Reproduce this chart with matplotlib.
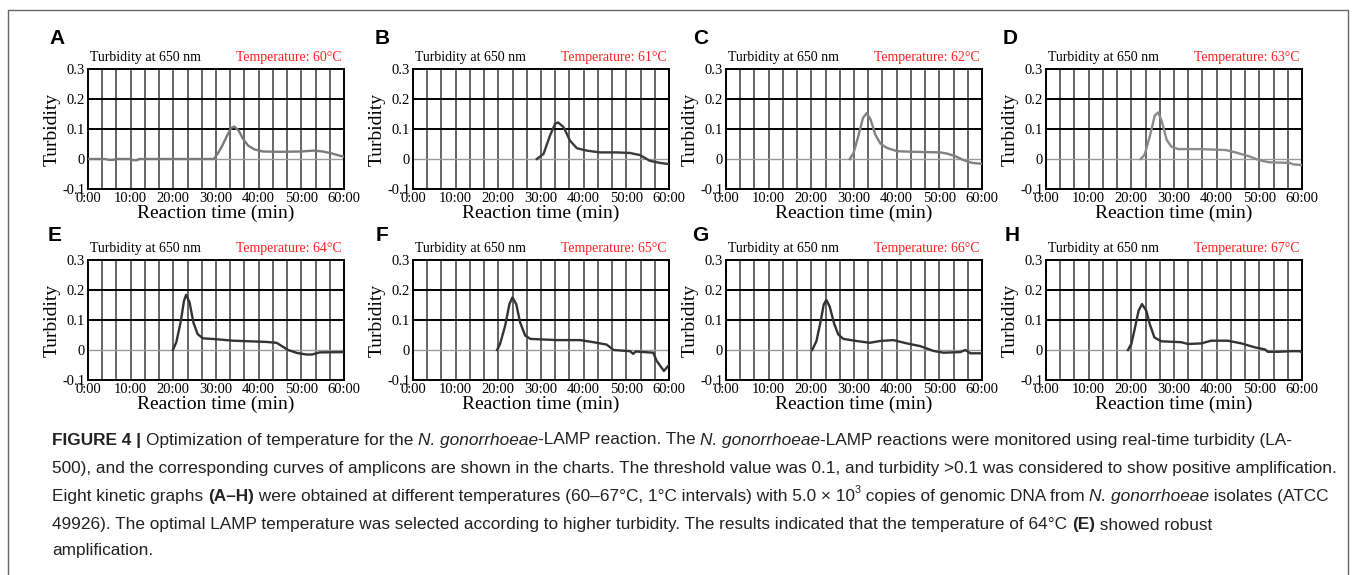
import numpy as np
import matplotlib
matplotlib.use('Agg')
import matplotlib.pyplot as plt
from matplotlib.lines import Line2D

# panel letters and temperatures
letters = ['A', 'B', 'C', 'D', 'E', 'F', 'G', 'H']
temps = [60, 61, 62, 63, 64, 65, 66, 67]

# turbidity curves (time in min, turbidity)
t_a = [0, 4, 5, 6, 6.5, 10, 10.5, 11.5, 12, 29.5, 30.5, 31.5, 32.5, 33.5, 34.3, 35.3, 36.3, 37.5, 39, 41, 45, 50, 53, 55, 57, 59, 60]
y_a = [0, 0, -0.003, -0.003, 0, 0, -0.004, -0.004, 0, 0, 0.02, 0.045, 0.075, 0.103, 0.108, 0.095, 0.068, 0.045, 0.032, 0.025, 0.024, 0.025, 0.028, 0.025, 0.019, 0.011, 0.008]

t_b = [29.0, 30.6, 32.1, 33.3, 34.0, 35.3, 36.8, 38.4, 40.7, 43.8, 47.7, 50.9, 53.2, 55.5, 57.9, 60]
y_b = [0, 0.017, 0.078, 0.117, 0.122, 0.106, 0.061, 0.036, 0.028, 0.022, 0.022, 0.02, 0.013, -0.006, -0.013, -0.017]

t_c = [29.0, 29.9, 31.1, 32.1, 33.0, 33.9, 35.0, 36.2, 37.7, 40.1, 44.0, 50.2, 51.8, 53.8, 55.7, 57.7, 60]
y_c = [0, 0.02, 0.081, 0.137, 0.153, 0.131, 0.081, 0.051, 0.037, 0.026, 0.024, 0.022, 0.018, 0.009, -0.004, -0.013, -0.016]

t_d = [22.2, 23.1, 24.3, 25.5, 26.3, 27.1, 28.3, 29.4, 31.0, 35.8, 42.1, 44.4, 47.6, 50.0, 52.3, 57.1, 58, 60]
y_d = [0, 0.014, 0.074, 0.145, 0.155, 0.128, 0.063, 0.041, 0.033, 0.033, 0.030, 0.022, 0.009, -0.004, -0.011, -0.013, -0.018, -0.02]

t_e = [19.9, 20.7, 21.7, 22.5, 23.0, 23.8, 24.7, 25.7, 26.9, 30.0, 34.0, 41.7, 44.2, 46.9, 49.0, 51.2, 52.5, 54.3, 60]
y_e = [0, 0.026, 0.092, 0.164, 0.184, 0.159, 0.092, 0.053, 0.039, 0.036, 0.031, 0.027, 0.024, 0.0, -0.01, -0.015, -0.015, -0.008, -0.007]

t_f = [19.7, 20.4, 21.6, 22.6, 23.3, 24.2, 25.1, 26.3, 27.5, 33.7, 39.2, 42.3, 45.4, 47.0, 50.9, 51.6, 52.2, 56.3, 57.1, 58.8, 60]
y_f = [0, 0.02, 0.081, 0.153, 0.175, 0.153, 0.092, 0.048, 0.037, 0.033, 0.033, 0.026, 0.018, 0.0, -0.004, -0.013, -0.005, -0.009, -0.036, -0.07, -0.05]

t_g = [20.2, 21.2, 22.1, 22.9, 23.5, 24.3, 25.3, 26.3, 27.5, 30.6, 33.7, 36.1, 39.2, 42.4, 45.5, 48.6, 51.0, 54.9, 56.1, 57.3, 60]
y_g = [0, 0.03, 0.09, 0.151, 0.167, 0.145, 0.09, 0.052, 0.037, 0.03, 0.024, 0.03, 0.033, 0.022, 0.013, -0.003, -0.009, -0.007, 0.0, -0.011, -0.011]

t_h = [19.2, 20.0, 20.7, 21.7, 22.5, 23.5, 24.3, 25.4, 27.0, 31.7, 33.3, 36.4, 38.7, 42.6, 45.8, 48.9, 51.3, 52, 54.4, 57.5, 59.5, 60]
y_h = [0, 0.02, 0.064, 0.131, 0.153, 0.131, 0.087, 0.042, 0.029, 0.026, 0.02, 0.022, 0.031, 0.031, 0.022, 0.009, 0.002, -0.006, -0.006, -0.004, -0.004, -0.009]

curves = [(t_a, y_a), (t_b, y_b), (t_c, y_c), (t_d, y_d),
          (t_e, y_e), (t_f, y_f), (t_g, y_g), (t_h, y_h)]
line_colors = ['#7a7a7a', '#3a3a3a', '#808080', '#8a8a8a',
               '#333333', '#333333', '#333333', '#333333']

x_ticks = [0, 10, 20, 30, 40, 50, 60]
x_ticklabels = ['0:00', '10:00', '20:00', '30:00', '40:00', '50:00', '60:00']
y_ticks = [-0.1, 0, 0.1, 0.2, 0.3]
y_ticklabels = ['-0.1', '0', '0.1', '0.2', '0.3']

W, H = 1354, 575
fig = plt.figure(figsize=(W / 100, H / 100), dpi=100)
serif = 'Liberation Serif'
sans = 'Liberation Sans'

# outer frame (left, top, right)
px = lambda x: x / W
py = lambda y: 1 - y / H
fig.add_artist(Line2D([px(8), px(8), px(1348), px(1348)], [py(580), py(10), py(10), py(580)],
                      color='#666666', lw=1.0, transform=fig.transFigure))

ax_lefts = [88, 413, 726, 1046]
ax_tops = [69, 260]
ax_w, ax_h = 256, 120
letter_x = [[49, 375, 693, 1003], [48, 376, 692, 1005]]
letter_y = [38, 235]

for i in range(8):
    r, c = divmod(i, 4)
    l, t = ax_lefts[c], ax_tops[r]
    ax = fig.add_axes([px(l), py(t + ax_h), ax_w / W, ax_h / H])
    ax.set_xlim(0, 60)
    ax.set_ylim(-0.1, 0.3)
    for xv in np.arange(10 / 3, 60, 10 / 3):
        ax.axvline(xv, color='#3c3c3c', lw=1.1, zorder=1)
    ax.axhline(0.1, color='black', lw=1.4, zorder=1)
    ax.axhline(0.2, color='black', lw=1.4, zorder=1)
    ax.axhline(0, color='#9a9a9a', lw=1.0, zorder=1)
    tt, yy = curves[i]
    ax.plot(tt, yy, color=line_colors[i], lw=1.7, zorder=3)

    ax.set_xticks(x_ticks)
    ax.set_xticklabels(x_ticklabels, family=serif, fontsize=10.5)
    ax.set_yticks(y_ticks)
    ax.set_yticklabels(y_ticklabels, family=serif, fontsize=10.5)
    ax.tick_params(axis='both', length=0)
    ax.tick_params(axis='x', pad=2.5)
    ax.tick_params(axis='y', pad=2)
    for s in ax.spines.values():
        s.set_linewidth(1.4)
        s.set_color('black')
    ax.set_xlabel('Reaction time (min)', family=serif, fontsize=14, labelpad=-0.5)
    ax.set_ylabel('Turbidity', family=serif, fontsize=14, labelpad=1)

    ax.annotate('Turbidity at 650 nm', xy=(0, 1), xycoords='axes fraction',
                xytext=(1.5, 3.5), textcoords='offset points', ha='left', va='bottom',
                family=serif, fontsize=10, color='black')
    ax.annotate('Temperature: %d°C' % temps[i], xy=(1, 1), xycoords='axes fraction',
                xytext=(-2, 3.5), textcoords='offset points', ha='right', va='bottom',
                family=serif, fontsize=10, color='#ff2020')

    fig.text(px(letter_x[r][c]), py(letter_y[r]), letters[i], ha='left', va='center',
             family=sans, fontweight='bold', fontsize=15)

# caption with mixed styles
cap_lines = [
    [('FIGURE 4 | ', 'b'), ('Optimization of temperature for the ', 'n'), ('N. gonorrhoeae', 'i'),
     ('-LAMP reaction. The ', 'n'), ('N. gonorrhoeae', 'i'),
     ('-LAMP reactions were monitored using real-time turbidity (LA-', 'n')],
    [('500), and the corresponding curves of amplicons are shown in the charts. The threshold value was 0.1, '
      'and turbidity >0.1 was considered to show positive amplification.', 'n')],
    [('Eight kinetic graphs ', 'n'), ('(A–H)', 'b'),
     (' were obtained at different temperatures (60–67°C, 1°C intervals) with 5.0 × 10', 'n'), ('3', 's'),
     (' copies of genomic DNA from ', 'n'), ('N. gonorrhoeae', 'i'), (' isolates (ATCC', 'n')],
    [('49926). The optimal LAMP temperature was selected according to higher turbidity. The results '
      'indicated that the temperature of 64°C ', 'n'), ('(E)', 'b'), (' showed robust', 'n')],
    [('amplification.', 'n')],
]
cap_y = [440, 469, 497, 525, 551]

fig.canvas.draw()
renderer = fig.canvas.get_renderer()


def seg_width(s, fs, style):
    kw = dict(family=sans, fontsize=fs)
    if style == 'b':
        kw['fontweight'] = 'bold'
    if style == 'i':
        kw['fontstyle'] = 'italic'
    a = fig.text(0, 0, '|' + s + '|', **kw)
    b = fig.text(0, 0, '||', **kw)
    w = a.get_window_extent(renderer).width - b.get_window_extent(renderer).width
    a.remove()
    b.remove()
    return w, kw


# fit font so the second caption line spans the text block width
w0, _ = seg_width(cap_lines[1][0][0], 12, 'n')
cap_fs = 12 * 1288 / w0

for segs, yc in zip(cap_lines, cap_y):
    x = 52
    for s, style in segs:
        fs = cap_fs * 0.62 if style == 's' else cap_fs
        w, kw = seg_width(s, fs, style)
        kw['fontsize'] = fs
        yy = yc - 7 if style == 's' else yc
        fig.text(px(x), py(yy), s, ha='left', va='center', color='#222222', **kw)
        x += w

fig.savefig('out.png', dpi=100)
